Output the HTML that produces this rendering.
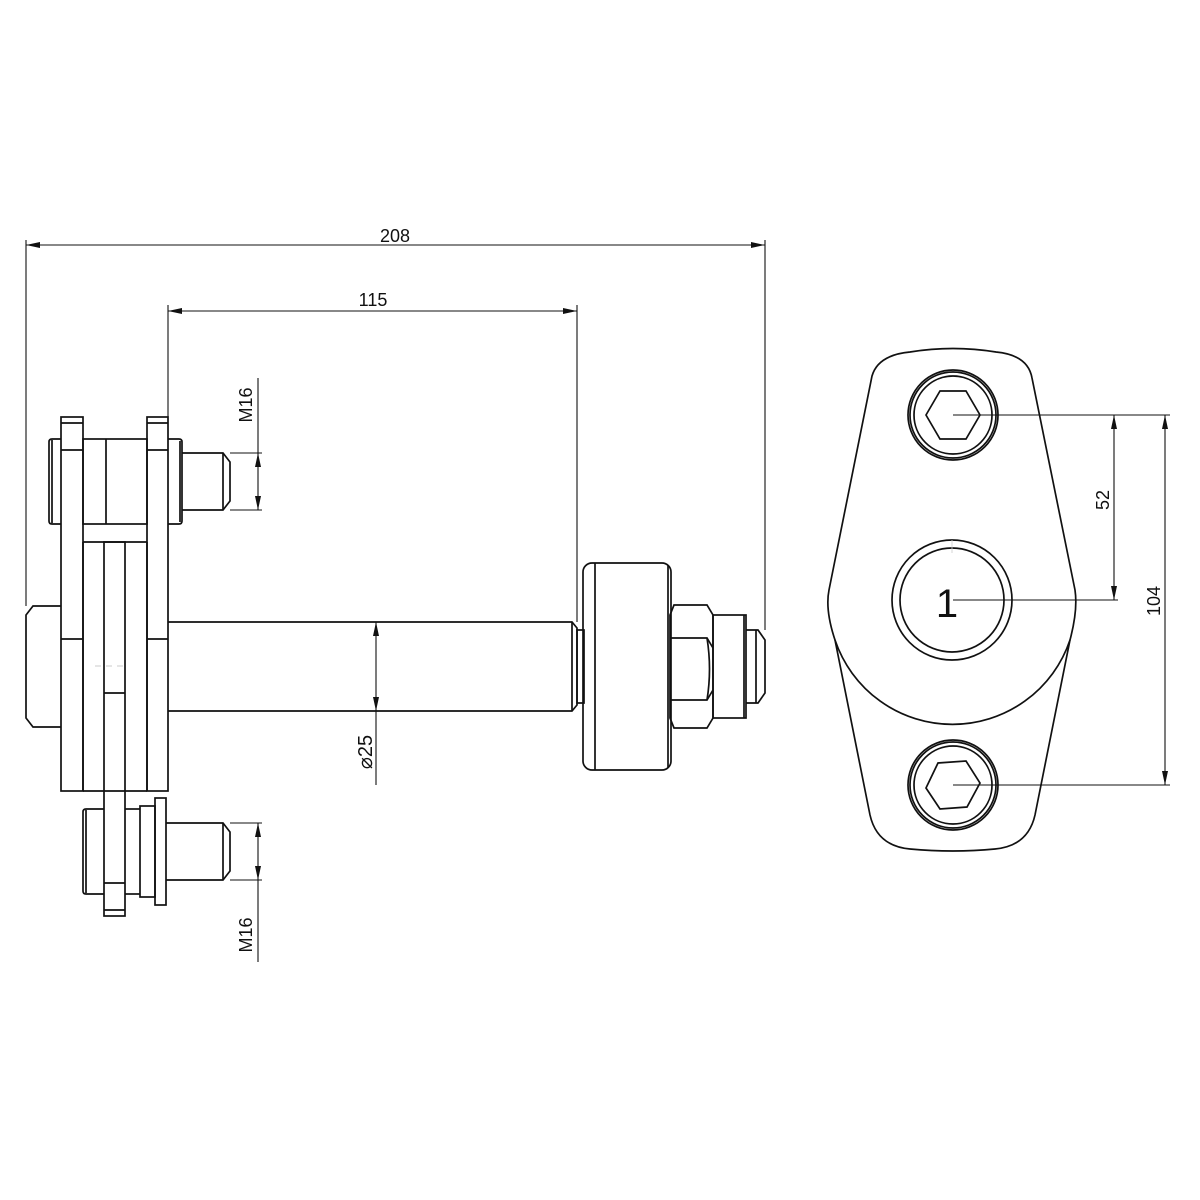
<!DOCTYPE html>
<html><head><meta charset="utf-8"><style>
html,body{margin:0;padding:0;background:#fff}
svg{display:block}
text{font-family:"Liberation Sans","DejaVu Sans",sans-serif;fill:#111}
</style></head><body>
<svg width="1200" height="1200" viewBox="0 0 1200 1200" xmlns="http://www.w3.org/2000/svg">
<defs>
<marker id="a" viewBox="0 0 14 6" refX="14" refY="3" markerWidth="14" markerHeight="6" markerUnits="userSpaceOnUse" orient="auto-start-reverse"><path d="M0,0 L14,3 L0,6 Z" fill="#111"/></marker>
</defs>
<g fill="none" stroke="#111" stroke-width="1.7">
<g stroke-width="1.1">
<line x1="26" y1="240" x2="26" y2="606"/>
<line x1="765" y1="240" x2="765" y2="630"/>
<line x1="26" y1="245" x2="765" y2="245" marker-start="url(#a)" marker-end="url(#a)"/>
<line x1="168" y1="305" x2="168" y2="417"/>
<line x1="577" y1="305" x2="577" y2="622"/>
<line x1="168" y1="311" x2="577" y2="311" marker-start="url(#a)" marker-end="url(#a)"/>
<line x1="258" y1="378" x2="258" y2="453"/>
<line x1="258" y1="453" x2="258" y2="510" marker-start="url(#a)" marker-end="url(#a)"/>
<line x1="230" y1="453" x2="262" y2="453"/>
<line x1="230" y1="510" x2="262" y2="510"/>
<line x1="258" y1="823" x2="258" y2="880" marker-start="url(#a)" marker-end="url(#a)"/>
<line x1="258" y1="880" x2="258" y2="962"/>
<line x1="230" y1="823" x2="262" y2="823"/>
<line x1="230" y1="880" x2="262" y2="880"/>
<line x1="376" y1="622" x2="376" y2="711" marker-start="url(#a)" marker-end="url(#a)"/>
<line x1="376" y1="711" x2="376" y2="785"/>
<line x1="953" y1="415" x2="1170" y2="415"/>
<line x1="953" y1="600" x2="1118" y2="600"/>
<line x1="953" y1="785" x2="1170" y2="785"/>
<line x1="1114" y1="415" x2="1114" y2="600" marker-start="url(#a)" marker-end="url(#a)"/>
<line x1="1165" y1="415" x2="1165" y2="785" marker-start="url(#a)" marker-end="url(#a)"/>
</g>

<path d="M52,439 L61,439 M52,439 Q49,439 49,442 L49,521 Q49,524 52,524 L61,524"/>
<line x1="52" y1="440" x2="52" y2="523"/>
<rect x="83" y="439" width="64" height="85"/>
<line x1="106" y1="439" x2="106" y2="524"/>
<path d="M168,439 L179,439 Q182,439 182,442 L182,521 Q182,524 179,524 L168,524"/>
<line x1="180" y1="441" x2="180" y2="522"/>
<path d="M182,453 L223,453 L230,462 L230,501 L223,510 L182,510"/>
<line x1="223" y1="453" x2="223" y2="510"/>
<rect x="61" y="417" width="22" height="374"/>
<rect x="147" y="417" width="21" height="374"/>
<line x1="61" y1="423" x2="83" y2="423"/><line x1="61" y1="450" x2="83" y2="450"/>
<line x1="147" y1="423" x2="168" y2="423"/><line x1="147" y1="450" x2="168" y2="450"/>
<line x1="61" y1="639" x2="83" y2="639"/><line x1="147" y1="639" x2="168" y2="639"/>
<line x1="83" y1="542" x2="147" y2="542"/>
<line x1="83" y1="542" x2="83" y2="791"/>
<line x1="147" y1="542" x2="147" y2="791"/>
<line x1="83" y1="791" x2="147" y2="791"/>
<rect x="104" y="542" width="21" height="374"/>
<line x1="104" y1="693" x2="125" y2="693"/>
<line x1="104" y1="883" x2="125" y2="883"/>
<line x1="104" y1="910" x2="125" y2="910"/>
<line x1="95" y1="666" x2="125" y2="666" stroke="#bbb" stroke-dasharray="6 5" stroke-width="0.8"/>
<path d="M61,606 L33,606 L26,615 L26,718 L33,727 L61,727"/>
<path d="M168,622 L572,622 L577,628 L577,705 L572,711 L168,711"/>
<line x1="572" y1="622" x2="572" y2="711"/>
<rect x="577" y="630" width="7" height="73"/>
<path d="M104,809 L86,809 Q83,809 83,812 L83,891 Q83,894 86,894 L104,894"/>
<line x1="86" y1="810" x2="86" y2="893"/>
<line x1="125" y1="809" x2="140" y2="809"/>
<line x1="125" y1="894" x2="140" y2="894"/>
<rect x="140" y="806" width="15" height="91"/>
<rect x="155" y="798" width="11" height="107"/>
<path d="M166,823 L223,823 L230,832 L230,871 L223,880 L166,880"/>
<line x1="223" y1="823" x2="223" y2="880"/>
<rect x="583" y="563" width="88" height="207" rx="9"/>
<line x1="595" y1="563" x2="595" y2="770"/>
<line x1="668" y1="565" x2="668" y2="768"/>
<path d="M674,605 L707,605 L713,615 L713,718 L707,728 L674,728 L670,718 L670,615 Z"/>
<path d="M670,638 L674,638 L707,638 L713,648"/>
<path d="M670,700 L707,700 L713,690"/>
<path d="M707,638 Q712,669 707,700"/>
<rect x="713" y="615" width="33" height="103"/>
<line x1="744" y1="615" x2="744" y2="718"/>
<path d="M746,630 L758,630 L765,640 L765,693 L758,703 L746,703"/>
<line x1="756" y1="630" x2="756" y2="703"/>

<path d="M872,376 Q878,355 910,352 Q953,345 996,352 Q1028,355 1032,378 L1075,590 Q1078,610 1070,640 L1035,815 Q1028,846 995,849 Q953,853 910,849 Q877,846 870,815 L835,640 Q825,610 829,590 Z"/>
<path d="M835,640 A124,124 0 0 0 1070,640"/>
<circle cx="952" cy="600" r="60"/>
<circle cx="952" cy="600" r="52"/>
<line x1="952" y1="540" x2="952" y2="553" stroke="#ccc" stroke-width="0.8"/>
<circle cx="953" cy="415" r="45"/><circle cx="953" cy="415" r="43"/><circle cx="953" cy="415" r="39"/>
<polygon points="926,415 940,391 966,391 980,415 966,439 940,439"/>
<circle cx="953" cy="785" r="45"/><circle cx="953" cy="785" r="43"/><circle cx="953" cy="785" r="39"/>
<polygon points="926,788 938,763 966,761 980,783 967,807 940,809"/>
</g>

<text x="395" y="242" font-size="18" text-anchor="middle">208</text>
<text x="373" y="306" font-size="18" text-anchor="middle">115</text>
<text transform="translate(252,405) rotate(-90)" font-size="18" text-anchor="middle">M16</text>
<text transform="translate(252,935) rotate(-90)" font-size="18" text-anchor="middle">M16</text>
<text transform="translate(372,752) rotate(-90)" font-size="20" text-anchor="middle">⌀25</text>
<text transform="translate(1109,500) rotate(-90)" font-size="18" text-anchor="middle">52</text>
<text transform="translate(1160,601) rotate(-90)" font-size="18" text-anchor="middle">104</text>
<text x="947" y="617" font-size="40" text-anchor="middle">1</text>
</svg>
</body></html>
